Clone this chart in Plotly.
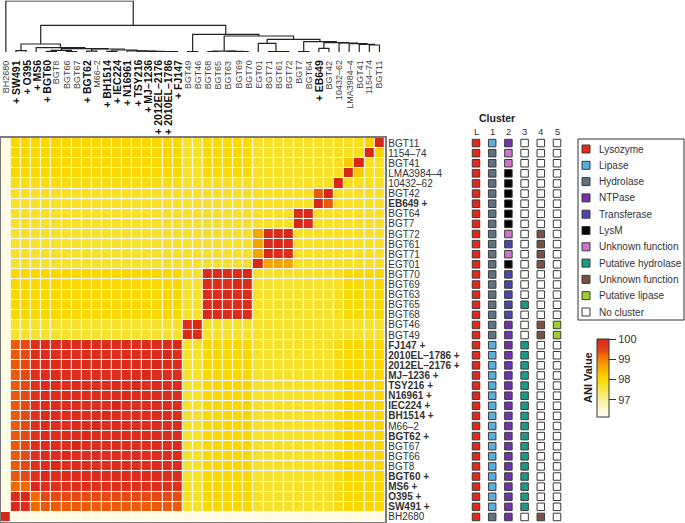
import plotly.graph_objects as go

W, H = 685, 523
FONT = "Liberation Sans, Arial, sans-serif"

# ---------------- data ----------------
cols = ["BH2680", "SW491", "O395", "MS6", "BGT60", "BGT8", "BGT66", "BGT67", "BGT62",
        "M66–2", "BH1514", "IEC224", "N16961", "TSY216", "MJ–1236", "2012EL–2176",
        "2010EL–1786", "FJ147", "BGT49", "BGT46", "BGT68", "BGT65", "BGT63", "BGT69",
        "BGT70", "EGT01", "BGT71", "BGT61", "BGT72", "BGT7", "BGT64", "EB649", "BGT42",
        "10432–62", "LMA3984–4", "BGT41", "1154–74", "BGT11"]
rows = cols[::-1]  # top to bottom

pandemic = ["SW491", "O395", "MS6", "BGT60", "BGT62", "BH1514", "IEC224", "N16961",
            "TSY216", "MJ–1236", "2012EL–2176", "2010EL–1786", "FJ147", "EB649"]

group_names = ["G0", "A1", "A2", "A3", "A4", "B", "C", "D1", "D2", "E", "F1", "F2",
               "S1", "S2", "S3", "S4", "S5"]
strain_group = {
    "BH2680": "G0", "SW491": "A1", "O395": "A2", "MS6": "A3",
    "BGT60": "A4", "BGT8": "A4", "BGT66": "A4", "BGT67": "A4", "BGT62": "A4",
    "M66–2": "A4", "BH1514": "A4", "IEC224": "A4", "N16961": "A4", "TSY216": "A4",
    "MJ–1236": "A4", "2012EL–2176": "A4", "2010EL–1786": "A4", "FJ147": "A4",
    "BGT49": "B", "BGT46": "B",
    "BGT68": "C", "BGT65": "C", "BGT63": "C", "BGT69": "C", "BGT70": "C",
    "EGT01": "D1", "BGT71": "D2", "BGT61": "D2", "BGT72": "D2",
    "BGT7": "E", "BGT64": "E", "EB649": "F1", "BGT42": "F2",
    "10432–62": "S1", "LMA3984–4": "S2", "BGT41": "S3", "1154–74": "S4", "BGT11": "S5",
}
# ANI (%) between groups
group_ani = [
    # G0    A1     A2     A3     A4     B      C      D1     D2     E      F1     F2     S1     S2     S3     S4     S5
    [100.0, 96.40, 96.40, 96.40, 96.40, 96.40, 96.40, 96.40, 96.40, 96.40, 96.40, 96.40, 96.40, 96.40, 96.40, 96.40, 96.40],
    [96.40, 99.85, 99.85, 99.20, 99.30, 97.70, 98.05, 97.70, 97.70, 97.75, 97.75, 97.75, 97.90, 98.05, 98.05, 98.05, 98.05],
    [96.40, 99.85, 99.85, 99.20, 99.40, 97.70, 98.05, 97.70, 97.70, 97.75, 97.75, 97.75, 97.90, 98.05, 98.05, 98.05, 98.05],
    [96.40, 99.20, 99.20, 100.0, 99.80, 97.70, 98.05, 97.70, 97.70, 97.75, 97.75, 97.75, 97.90, 98.05, 98.05, 98.05, 98.05],
    [96.40, 99.30, 99.40, 99.80, 99.85, 97.70, 98.05, 97.70, 97.70, 97.75, 97.75, 97.75, 97.90, 98.05, 98.05, 98.05, 98.05],
    [96.40, 97.70, 97.70, 97.70, 97.70, 99.85, 97.70, 97.70, 97.70, 97.70, 97.70, 97.70, 97.70, 97.70, 97.70, 97.70, 97.70],
    [96.40, 98.05, 98.05, 98.05, 98.05, 97.70, 99.85, 97.70, 97.70, 97.70, 97.70, 97.70, 97.80, 98.00, 98.00, 98.00, 98.00],
    [96.40, 97.70, 97.70, 97.70, 97.70, 97.70, 97.70, 100.0, 98.65, 97.75, 97.75, 97.75, 97.75, 97.75, 97.75, 97.75, 97.75],
    [96.40, 97.70, 97.70, 97.70, 97.70, 97.70, 97.70, 98.65, 99.85, 97.75, 97.75, 97.75, 97.75, 97.75, 97.75, 97.75, 97.75],
    [96.40, 97.75, 97.75, 97.75, 97.75, 97.70, 97.70, 97.75, 97.75, 99.85, 97.75, 97.75, 97.75, 97.75, 97.75, 97.75, 97.75],
    [96.40, 97.75, 97.75, 97.75, 97.75, 97.70, 97.70, 97.75, 97.75, 97.75, 100.0, 99.30, 97.75, 97.75, 97.75, 97.75, 97.75],
    [96.40, 97.75, 97.75, 97.75, 97.75, 97.70, 97.70, 97.75, 97.75, 97.75, 99.30, 100.0, 97.75, 97.75, 97.75, 97.75, 97.75],
    [96.40, 97.90, 97.90, 97.90, 97.90, 97.70, 97.80, 97.75, 97.75, 97.75, 97.75, 97.75, 100.0, 97.80, 97.80, 97.80, 97.80],
    [96.40, 98.05, 98.05, 98.05, 98.05, 97.70, 98.00, 97.75, 97.75, 97.75, 97.75, 97.75, 97.80, 100.0, 98.20, 97.80, 97.80],
    [96.40, 98.05, 98.05, 98.05, 98.05, 97.70, 98.00, 97.75, 97.75, 97.75, 97.75, 97.75, 97.80, 98.20, 100.0, 97.80, 97.80],
    [96.40, 98.05, 98.05, 98.05, 98.05, 97.70, 98.00, 97.75, 97.75, 97.75, 97.75, 97.75, 97.80, 97.80, 97.80, 100.0, 98.10],
    [96.40, 98.05, 98.05, 98.05, 98.05, 97.70, 98.00, 97.75, 97.75, 97.75, 97.75, 97.75, 97.80, 97.80, 97.80, 98.10, 100.0],
]

# dendrogram merges: (node id, left child, right child, height)
dendro_merges = [
    ("a1", "SW491", "O395", 1.3),
    ("p1a", "BGT60", "BGT8", 0.6),
    ("p1b", "BGT66", "BGT67", 0.5),
    ("p1", "p1a", "p1b", 1.6),
    ("q1", "BGT62", "M66–2", 0.8),
    ("q2a", "BH1514", "IEC224", 0.7),
    ("q3e", "2010EL–1786", "FJ147", 0.3),
    ("q3d", "2012EL–2176", "q3e", 0.5),
    ("q3c", "MJ–1236", "q3d", 0.7),
    ("q3b", "TSY216", "q3c", 0.9),
    ("q3", "N16961", "q3b", 1.1),
    ("q2", "q2a", "q3", 2.0),
    ("p2", "q1", "q2", 3.0),
    ("p", "p1", "p2", 3.4),
    ("a2", "MS6", "p", 4.3),
    ("A", "a1", "a2", 8.0),
    ("B", "BGT49", "BGT46", 0.3),
    ("c1", "BGT68", "BGT65", 0.4),
    ("c2", "BGT69", "BGT70", 0.3),
    ("c3", "BGT63", "c2", 0.6),
    ("C", "c1", "c3", 0.9),
    ("d2a", "BGT61", "BGT72", 0.3),
    ("D2", "BGT71", "d2a", 0.5),
    ("D", "EGT01", "D2", 8.7),
    ("E", "BGT7", "BGT64", 0.3),
    ("F", "EB649", "BGT42", 3.7),
    ("U", "1154–74", "BGT11", 7.0),
    ("T", "BGT41", "U", 7.7),
    ("S", "LMA3984–4", "T", 8.3),
    ("R", "10432–62", "S", 9.0),
    ("Q", "F", "R", 9.3),
    ("Z", "E", "Q", 10.3),
    ("Y", "D", "Z", 12.7),
    ("X", "C", "Y", 16.0),
    ("Wn", "B", "X", 17.7),
    ("AW", "A", "Wn", 26.6),
    ("root", "BH2680", "AW", 51.0),
]

# gene cluster annotation per row (top to bottom)
cluster_headers = ["L", "1", "2", "3", "4", "5"]
cluster_L = ["Ly"] * 38
cluster_1 = ["Li"] + ["Hy"] * 19 + ["Li"] * 17 + ["Hy"]
cluster_2 = ["NT", "U1", "U1", "LM", "LM", "LM", "LM", "LM", "LM", "U1", "Tr", "U1", "LM",
             "Tr", "Tr", "Tr", "Tr", "Tr", "NT", "NT"] + ["NT"] * 17 + ["NT"]
cluster_3 = ["NC"] * 16 + ["PH", "NC", "NC", "NC"] + ["PH"] * 17 + ["NC"]
cluster_4 = ["NC"] * 9 + ["U2", "U2", "U2", "U2"] + ["NC"] * 5 + ["U2", "U2"] + ["NC"] * 17 + ["U2"]
cluster_5 = ["NC"] * 18 + ["PL", "PL"] + ["NC"] * 17 + ["NC"]
cluster_cols = [cluster_L, cluster_1, cluster_2, cluster_3, cluster_4, cluster_5]

legend_codes = ["Ly", "Li", "Hy", "NT", "Tr", "LM", "U1", "PH", "U2", "PL", "NC"]
legend_names = ["Lysozyme", "Lipase", "Hydrolase", "NTPase", "Transferase", "LysM",
                "Unknown function", "Putative hydrolase", "Unknown function",
                "Putative lipase", "No cluster"]
code_colors = {"Ly": "#e0291d", "Li": "#5aaedc", "Hy": "#5d7282", "NT": "#7133a8",
               "Tr": "#4b47a6", "LM": "#000000", "U1": "#cc73cc", "PH": "#1e9988",
               "U2": "#7a5242", "PL": "#9fcd2e", "NC": "#ffffff"}

cbar_ticks = [97, 98, 99, 100]
ZMIN, ZMAX = 96.15, 100.0

# ---------------- helpers ----------------
def px_x(p):
    return p / W


def px_y(p):
    return 1 - p / H


gidx = {g: i for i, g in enumerate(group_names)}
z = []
for r in rows:
    line = []
    for c in cols:
        if r == c:
            line.append(100.0)
        else:
            line.append(group_ani[gidx[strain_group[r]]][gidx[strain_group[c]]])
    z.append(line)

stops = [(96.15, "#fffff4"), (96.4, "#fffbe0"), (97.0, "#faef98"), (97.7, "#f6e22c"),
         (98.05, "#fcd700"), (98.65, "#f6a500"), (99.2, "#f06a00"), (99.4, "#e64a14"),
         (99.85, "#de2c1c"), (100.0, "#d92818")]
colorscale = [[(v - ZMIN) / (ZMAX - ZMIN), c] for v, c in stops]


def col_label(name):
    if name in pandemic:
        return f"<b>+ {name}</b>"
    return name


def row_label(name):
    if name in pandemic:
        return f"<b>{name} +</b>"
    return name


fig = go.Figure()

# heatmap
HX0, HX1 = 0.8, 384.5
HY0, HY1 = 138.0, 522.0
fig.add_trace(go.Heatmap(
    z=z, x=list(range(len(cols))), y=list(range(len(rows))),
    zmin=ZMIN, zmax=ZMAX, colorscale=colorscale, xgap=1, ygap=1,
    hoverinfo="skip",
    colorbar=dict(x=px_x(597), xanchor="left", xpad=0, y=px_y(378), yanchor="middle",
                  ypad=0, len=78, lenmode="pixels", thickness=12, thicknessmode="pixels",
                  outlinewidth=1, outlinecolor="#333", ticks="outside", ticklen=7,
                  tickcolor="#333", tickvals=cbar_ticks, tickprefix="\u2002",
                  tickfont=dict(size=11, color="#333", family=FONT)),
))

# dendrogram
pos = {n: i for i, n in enumerate(cols)}
hgt = {n: 0.0 for n in cols}
dx, dy = [], []
for nid, l, r, h in dendro_merges:
    xl, xr = pos[l], pos[r]
    dx += [xl, xl, xr, xr, None]
    dy += [hgt[l], h, h, hgt[r], None]
    pos[nid] = (xl + xr) / 2
    hgt[nid] = h
fig.add_trace(go.Scatter(x=dx, y=dy, mode="lines", xaxis="x3", yaxis="y3",
                         line=dict(color="#222", width=1.2), hoverinfo="skip",
                         showlegend=False, cliponaxis=False))

# cluster annotation squares
for k, colvals in enumerate(cluster_cols):
    fig.add_trace(go.Scatter(
        x=[k] * len(colvals), y=list(range(len(colvals))), mode="markers",
        xaxis="x2", yaxis="y", hoverinfo="skip", showlegend=False, cliponaxis=False,
        marker=dict(symbol="square", size=7.5, color=[code_colors[c] for c in colvals],
                    line=dict(color="#3a3a3a", width=1))))

# legend squares
fig.add_trace(go.Scatter(
    x=[0] * len(legend_codes), y=list(range(len(legend_codes))), mode="markers",
    xaxis="x4", yaxis="y4", hoverinfo="skip", showlegend=False, cliponaxis=False,
    marker=dict(symbol="square", size=8, color=[code_colors[c] for c in legend_codes],
                line=dict(color="#3a3a3a", width=1))))

annotations = []
# column labels
for i, c in enumerate(cols):
    bold = c in pandemic
    annotations.append(dict(
        x=i, xref="x", y=px_y(58), yref="paper", xanchor="center", yanchor="top",
        text=col_label(c), textangle=-90, showarrow=False,
        font=dict(size=10.5 if bold else 9, family=FONT, color="#111" if bold else "#444")))
# cluster headers
for k, t in enumerate(cluster_headers):
    annotations.append(dict(
        x=k, xref="x2", y=px_y(139), yref="paper", xanchor="center", yanchor="bottom",
        text=t, showarrow=False, font=dict(size=9.5, family=FONT, color="#333")))
annotations.append(dict(x=px_x(497), y=px_y(118), xref="paper", yref="paper",
                        xanchor="center", yanchor="middle",
                        text="<b>Cluster</b>", showarrow=False,
                        font=dict(size=10.5, family=FONT, color="#222")))
# legend texts
for k, name in enumerate(legend_names):
    annotations.append(dict(
        x=px_x(597), xref="paper", y=k, yref="y4", xanchor="left", yanchor="middle",
        text=name, showarrow=False, font=dict(size=10, family=FONT, color="#333")))
annotations.append(dict(x=px_x(588), y=px_y(378), xref="paper", yref="paper",
                        xanchor="center", yanchor="middle",
                        text="<b>ANI Value</b>", textangle=-90, showarrow=False,
                        font=dict(size=11, family=FONT, color="#222")))

row_text = [row_label(r) for r in rows]

# legend square axis geometry
LEG_TOP, LEG_BOT = 149.0, 312.0
step = (LEG_BOT - LEG_TOP) / 10

fig.update_layout(
    width=W, height=H, autosize=False,
    margin=dict(l=0, r=0, t=0, b=0, pad=0),
    paper_bgcolor="white", plot_bgcolor="white",
    font=dict(family=FONT, size=10, color="#333"),
    showlegend=False,
    xaxis=dict(domain=[px_x(HX0), px_x(HX1)], range=[-0.5, len(cols) - 0.5],
               showticklabels=False, ticks="", showgrid=False, zeroline=False,
               showline=True, mirror=True, linecolor="#7a7a7a", linewidth=1.5,
               fixedrange=True),
    yaxis=dict(domain=[px_y(HY1), px_y(HY0)], range=[len(rows) - 0.5, -0.5],
               side="right", anchor="x", tickvals=list(range(len(rows))),
               ticktext=row_text, ticks="", showgrid=False, zeroline=False,
               showline=True, mirror=True, linecolor="#7a7a7a", linewidth=1.5,
               tickfont=dict(size=10, family=FONT, color="#333"), fixedrange=True),
    xaxis2=dict(domain=[px_x(466), px_x(566)],
                range=[(466 - 476) / 16.2, (566 - 476) / 16.2],
                anchor="y", visible=False, fixedrange=True),
    xaxis3=dict(domain=[px_x(HX0), px_x(HX1)], range=[-0.5, len(cols) - 0.5],
                anchor="y3", visible=False, fixedrange=True),
    yaxis3=dict(domain=[px_y(52), px_y(0.5)], range=[0, 51.5], anchor="x3",
                visible=False, fixedrange=True),
    xaxis4=dict(domain=[px_x(580), px_x(592)], range=[-1, 1], anchor="y4",
                visible=False, fixedrange=True),
    yaxis4=dict(domain=[px_y(LEG_BOT + step / 2), px_y(LEG_TOP - step / 2)],
                range=[10.5, -0.5], anchor="x4", visible=False, fixedrange=True),
    annotations=annotations,
    shapes=[dict(type="rect", xref="paper", yref="paper", x0=px_x(578), x1=px_x(684),
                 y0=px_y(320), y1=px_y(139), line=dict(color="#333", width=1))],
)

fig.write_html("out.html", config={"displayModeBar": False},
               post_script="document.body.style.margin='0';document.body.style.overflow='hidden';")
